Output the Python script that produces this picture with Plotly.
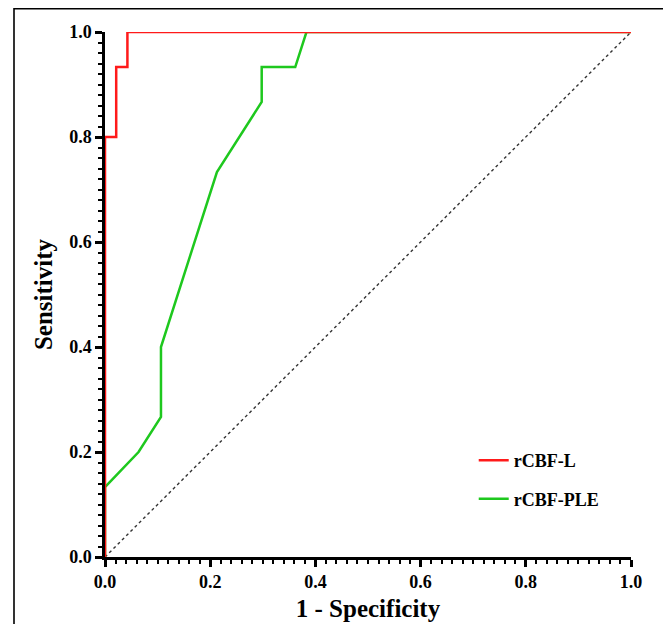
import plotly.graph_objects as go

# ROC data
red_fpr = [0, 0, 0.0213, 0.0213, 0.0426, 0.0426, 1.0]
red_tpr = [0, 0.8, 0.8, 0.9333, 0.9333, 1.0, 1.0]

green_fpr = [0, 0, 0.0638, 0.1064, 0.1064, 0.2128, 0.2979, 0.2979, 0.3617, 0.3830, 1.0]
green_tpr = [0, 0.1333, 0.2, 0.2667, 0.4, 0.7333, 0.8667, 0.9333, 0.9333, 1.0, 1.0]

ref_x = [0, 1]
ref_y = [0, 1]

series_names = ["rCBF-L", "rCBF-PLE"]
tick_vals = [0, 0.2, 0.4, 0.6, 0.8, 1.0]
tick_text = ["0.0", "0.2", "0.4", "0.6", "0.8", "1.0"]

W, H = 671, 624
OFF = 8  # page body margin
L, T = 105 - OFF, 32 - OFF
pw, ph = 526, 525
R, B = W - L - pw, H - T - ph

fig = go.Figure()
fig.add_trace(go.Scatter(x=ref_x, y=ref_y, mode="lines",
                         line=dict(color="#333333", width=1.4, dash="dot"),
                         showlegend=False, hoverinfo="skip"))
fig.add_trace(go.Scatter(x=green_fpr, y=green_tpr, mode="lines", name=series_names[1],
                         line=dict(color="#1ec81e", width=2.5), legendgroup="b", legendrank=2))
fig.add_trace(go.Scatter(x=red_fpr, y=red_tpr, mode="lines", name=series_names[0],
                         line=dict(color="#ff1a1a", width=2.5), legendgroup="a", legendrank=1))

font_family = "Liberation Serif"
axis_common = dict(
    range=[0, 1], tickvals=tick_vals, ticktext=tick_text,
    showgrid=False, zeroline=False, showline=True, linecolor="black", linewidth=2.5,
    ticks="outside", ticklen=7, tickwidth=2.5, tickcolor="black",
    tickfont=dict(family=font_family, size=18, color="black", weight="bold"),
    minor=dict(dtick=0.02, ticks="outside", ticklen=4, tickwidth=2, tickcolor="black", showgrid=False),
)

fig.update_layout(
    width=W, height=H,
    margin=dict(l=L, r=R, t=T, b=B, autoexpand=False),
    paper_bgcolor="white", plot_bgcolor="white",
    xaxis=dict(**axis_common,
               title=dict(text="1 - Specificity", standoff=9,
                          font=dict(family=font_family, size=25, color="black", weight="bold"))),
    yaxis=dict(**axis_common,
               title=dict(text="Sensitivity", standoff=10,
                          font=dict(family=font_family, size=25, color="black", weight="bold"))),
    legend=dict(x=0.701, y=0.219, xanchor="left", yanchor="top",
                bgcolor="rgba(0,0,0,0)", tracegroupgap=12, itemwidth=30,
                font=dict(family=font_family, size=18, color="black", weight="bold")),
    showlegend=True,
)

# outer frame (partial border seen in the reference)
fig.add_shape(type="rect", xref="paper", yref="paper",
              x0=(14 - OFF - L) / pw, x1=(W + 20 - L) / pw,
              y0=(T + ph - (H + 20)) / ph, y1=(T + ph - 0.8) / ph,
              line=dict(color="black", width=1.6), layer="below")

fig.write_html("out.html")
